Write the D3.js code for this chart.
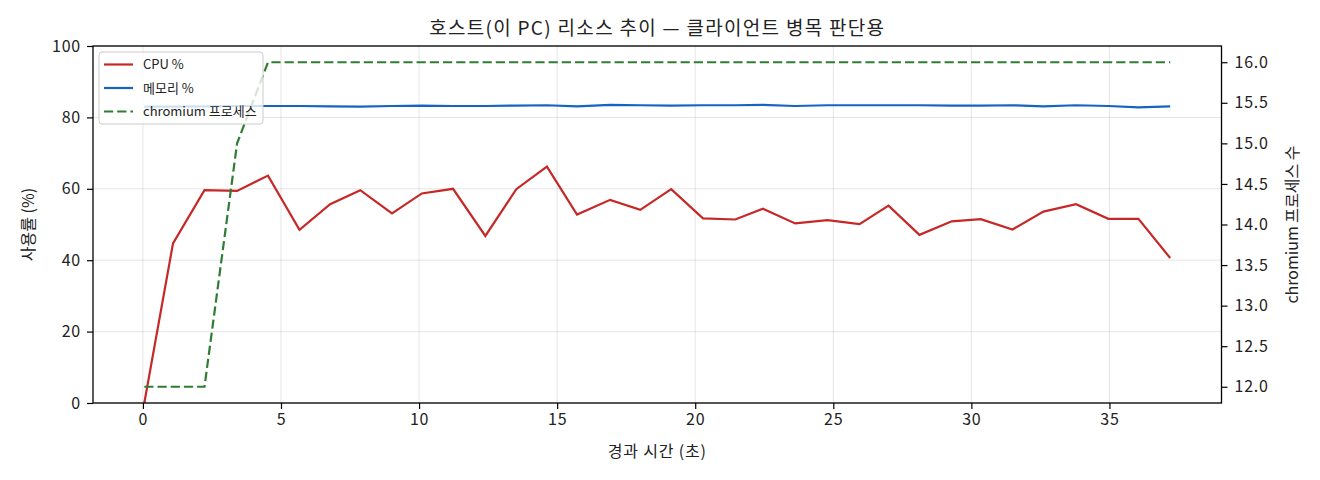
<!DOCTYPE html>
<meta charset="utf-8"/>
<title>호스트 리소스 추이</title>
<script src="https://cdn.jsdelivr.net/npm/d3@7"></script>
<style>
    body { margin: 0; background: #fff; }
    svg text { font-family: 'Noto Sans CJK KR', 'Noto Sans', sans-serif; fill: #222; }
    .grid line { stroke: #000; stroke-opacity: 0.1; }
    .axis path, .axis line { stroke: #000; stroke-width: 1.2; }
</style>
<svg width=1320 height=480></svg>
<script>
  // sampled every ~1.1 s
  const times = [0.05, 1.09, 2.23, 3.41, 4.53, 5.67, 6.78, 7.87, 9.02, 10.10, 11.23, 12.40,
    13.52, 14.63, 15.72, 16.92, 18.01, 19.13, 20.28, 21.45, 22.45, 23.62, 24.79, 25.95,
    27.00, 28.12, 29.29, 30.34, 31.49, 32.61, 33.79, 34.96, 36.05, 37.20];
  const cpu = [0.0, 44.7, 59.6, 59.4, 63.7, 48.5, 55.7, 59.6, 53.1, 58.7, 60.0, 46.8,
    59.9, 66.2, 52.8, 56.9, 54.1, 59.9, 51.7, 51.4, 54.4, 50.3, 51.2, 50.1,
    55.3, 47.1, 50.9, 51.5, 48.6, 53.6, 55.7, 51.6, 51.6, 40.6];
  const mem = [83.0, 83.0, 83.1, 83.2, 83.2, 83.2, 83.1, 83.0, 83.2, 83.3, 83.2, 83.2,
    83.3, 83.4, 83.1, 83.5, 83.4, 83.3, 83.4, 83.4, 83.5, 83.2, 83.4, 83.4,
    83.4, 83.4, 83.3, 83.3, 83.4, 83.1, 83.4, 83.2, 82.8, 83.1];
  const procs = [12, 12, 12, 15, 16, 16, 16, 16, 16, 16, 16, 16,
    16, 16, 16, 16, 16, 16, 16, 16, 16, 16, 16, 16,
    16, 16, 16, 16, 16, 16, 16, 16, 16, 16];
  const xTicks = [0, 5, 10, 15, 20, 25, 30, 35];
  const yTicks = [0, 20, 40, 60, 80, 100];
  const y2Ticks = [12.0, 12.5, 13.0, 13.5, 14.0, 14.5, 15.0, 15.5, 16.0];

  const m = {left: 93, right: 1221.5, top: 46, bottom: 403};
  const svg = d3.select('svg');

  const tMin = d3.min(times), tMax = d3.max(times), pad = (tMax - tMin) * 0.05;
  const x = d3.scaleLinear().domain([tMin - pad, tMax + pad]).range([m.left, m.right]);
  const y = d3.scaleLinear().domain([0, 100]).range([m.bottom, m.top]);
  const y2 = d3.scaleLinear().domain([11.8, 16.2]).range([m.bottom, m.top]);

  // grid
  const grid = svg.append('g').attr('class', 'grid');
  grid.selectAll('.gx').data(xTicks).enter().append('line')
    .attr('x1', d => x(d)).attr('x2', d => x(d))
    .attr('y1', m.top).attr('y2', m.bottom);
  grid.selectAll('.gy').data(yTicks).enter().append('line')
    .attr('x1', m.left).attr('x2', m.right)
    .attr('y1', d => y(d)).attr('y2', d => y(d));

  const rows = times.map((t, i) => ({t: t, cpu: cpu[i], mem: mem[i], p: procs[i]}));

  const lineCpu = d3.line().x(d => x(d.t)).y(d => y(d.cpu));
  const lineMem = d3.line().x(d => x(d.t)).y(d => y(d.mem));
  const lineP = d3.line().x(d => x(d.t)).y(d => y2(d.p));
  const dash = '9.2 4';

  const plot = svg.append('g');
  plot.append('path').datum(rows).attr('d', lineCpu)
    .style('fill', 'none').style('stroke', '#c62828').style('stroke-width', 2.2);
  plot.append('path').datum(rows).attr('d', lineMem)
    .style('fill', 'none').style('stroke', '#1565c0').style('stroke-width', 2.2);
  plot.append('path').datum(rows).attr('d', lineP)
    .style('fill', 'none').style('stroke', '#2e7d32').style('stroke-width', 2.2)
    .style('stroke-dasharray', dash);

  // axes
  const fs = 16;
  const ax = svg.append('g').attr('class', 'axis').attr('transform', 'translate(0,' + m.bottom + ')')
    .call(d3.axisBottom(x).tickValues(xTicks).tickSize(6).tickPadding(5));
  const ay = svg.append('g').attr('class', 'axis').attr('transform', 'translate(' + m.left + ',0)')
    .call(d3.axisLeft(y).tickValues(yTicks).tickSize(6).tickPadding(6));
  const ay2 = svg.append('g').attr('class', 'axis').attr('transform', 'translate(' + m.right + ',0)')
    .call(d3.axisRight(y2).tickValues(y2Ticks).tickFormat(d3.format('.1f')).tickSize(6).tickPadding(7));
  [ax, ay, ay2].forEach(g => {
    g.select('.domain').remove();
    g.selectAll('text').style('font-size', fs + 'px').style('fill', '#222')
      .style('letter-spacing', '0.8px');
  });

  // frame
  svg.append('rect').attr('x', m.left).attr('y', m.top)
    .attr('width', m.right - m.left).attr('height', m.bottom - m.top)
    .style('fill', 'none').style('stroke', '#000').style('stroke-width', 1.3);

  // labels
  svg.append('text').attr('x', (m.left + m.right) / 2).attr('y', 35)
    .attr('text-anchor', 'middle').style('font-size', '19px').style('letter-spacing', '1.3px')
    .text('호스트(이 PC) 리소스 추이 — 클라이언트 병목 판단용');
  svg.append('text').attr('x', (m.left + m.right) / 2).attr('y', 457)
    .attr('text-anchor', 'middle').style('font-size', fs + 'px').style('letter-spacing', '0.8px')
    .text('경과 시간 (초)');
  svg.append('text').attr('transform', 'translate(34,' + (m.top + m.bottom) / 2 + ')rotate(-90)')
    .attr('text-anchor', 'middle').style('font-size', fs + 'px')
    .text('사용률 (%)');
  svg.append('text').attr('transform', 'translate(1298,' + (m.top + m.bottom) / 2 + ')rotate(-90)')
    .attr('text-anchor', 'middle').style('font-size', fs + 'px')
    .text('chromium 프로세스 수');

  // legend
  const items = [
    {name: 'CPU %', color: '#c62828', dash: null},
    {name: '메모리 %', color: '#1565c0', dash: null},
    {name: 'chromium 프로세스', color: '#2e7d32', dash: dash}
  ];
  const lg = svg.append('g').attr('transform', 'translate(99,52)');
  lg.append('rect').attr('width', 164).attr('height', 72).attr('rx', 3)
    .style('fill', '#fff').style('fill-opacity', 0.8)
    .style('stroke', '#ccc').style('stroke-width', 1);
  const li = lg.selectAll('.item').data(items).enter().append('g')
    .attr('transform', (d, i) => 'translate(0,' + (12.5 + i * 23.5) + ')');
  li.append('line').attr('x1', 5).attr('x2', 34)
    .style('stroke', d => d.color).style('stroke-width', 2.2)
    .style('stroke-dasharray', d => d.dash);
  li.append('text').attr('x', 44).attr('dy', '0.35em')
    .style('font-size', '13px').text(d => d.name);
</script>
